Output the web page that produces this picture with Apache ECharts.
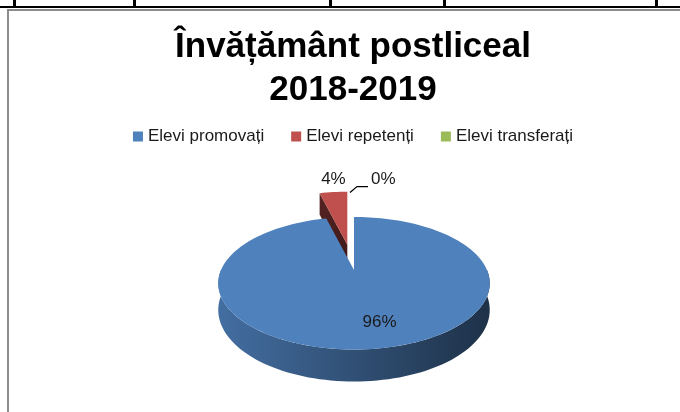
<!DOCTYPE html>
<html>
<head>
<meta charset="utf-8">
<script src="https://cdn.jsdelivr.net/npm/echarts@6/dist/echarts.min.js"></script>
<style>
  html, body { margin: 0; padding: 0; width: 680px; height: 412px; overflow: hidden; background: #fff; }
  .hline { position: absolute; left: 0; top: 6px; width: 680px; height: 2px; background: #000; }
  .vline { position: absolute; top: 0; width: 3px; height: 7px; background: #000; }
  #chart {
    position: absolute; left: 7px; top: 9px; width: 690px; height: 420px;
    box-sizing: border-box; border-left: 2px solid #8c8c8c; border-top: 2px solid #8c8c8c;
  }
</style>
</head>
<body>
<div class="hline"></div>
<div class="vline" style="left:13px"></div>
<div class="vline" style="left:133px"></div>
<div class="vline" style="left:329px"></div>
<div class="vline" style="left:443px"></div>
<div class="vline" style="left:655px"></div>
<div id="chart"></div>
<script>
// date
const titleText = 'Învățământ postliceal\n2018-2019';
const categories = ['Elevi promovați', 'Elevi repetenți', 'Elevi transferați'];
const values = [96, 4, 0];
const colors = ['#4F81BD', '#C0504D', '#9BBB59'];

// geometrie pentru pie-ul "3D"
const cx = 345, cy = 259;      // centrul fetei de sus
const R = 133, Ry = 63.6;      // raze
const persp = 0.2;             // perspectiva (spate mai mic)
const depth = 25.6;            // grosime
const explode = [0, 0.4, 0.4];

const total = values.reduce((a, b) => a + b, 0);
const rad = d => d * Math.PI / 180;

function proj(x, z) {
  const p = 1 / (1 + persp * z);
  return [cx + R * x * p, cy - Ry * z * p, p];
}
function edge(a) {
  return proj(Math.cos(rad(a)), Math.sin(rad(a)));
}
function shade(hex, k) {
  const n = parseInt(hex.slice(1), 16);
  const r = Math.round(((n >> 16) & 255) * k);
  const g = Math.round(((n >> 8) & 255) * k);
  const b = Math.round((n & 255) * k);
  return 'rgb(' + r + ',' + g + ',' + b + ')';
}
function arc(from, to) {
  const pts = [];
  const steps = Math.max(2, Math.ceil(Math.abs(to - from) / 2));
  for (let s = 0; s <= steps; s++) pts.push(edge(from + (to - from) * s / steps));
  return pts;
}

function renderSlice(i) {
  const before = values.slice(0, i).reduce((a, b) => a + b, 0);
  const a0 = 90 - before / total * 360;
  const a1 = a0 - values[i] / total * 360;
  const mid = (a0 + a1) / 2;
  const e = explode[i];
  const ox = R * e * Math.cos(rad(mid));
  const oy = -Ry * e * Math.sin(rad(mid));
  const mv = p => [p[0] + ox, p[1] + oy];
  const down = p => [p[0] + ox, p[1] + oy + depth * p[2]];
  const c = proj(0, 0);
  const children = [];

  if (values[i] > 0) {
    // perete exterior (doar jumatatea din fata)
    for (let k = -1; k <= 1; k++) {
      const lo = Math.max(a1, -180 + 360 * k);
      const hi = Math.min(a0, 360 * k);
      if (hi - lo <= 0) continue;
      const top = arc(lo, hi);
      const pts = top.map(mv).concat(top.slice().reverse().map(down));
      children.push({
        type: 'polygon', z2: 1,
        shape: { points: pts },
        style: {
          fill: new echarts.graphic.LinearGradient(0, 0, 1, 0, [
            { offset: 0, color: shade(colors[i], 0.85) },
            { offset: 1, color: shade(colors[i], 0.38) }
          ])
        }
      });
    }
    // fete de taietura vizibile
    [[a0, a0 + 90], [a1, a1 - 90]].forEach(([a, n]) => {
      if (Math.sin(rad(n)) > -0.05) return;
      const p = edge(a);
      children.push({
        type: 'polygon', z2: 1,
        shape: { points: [mv(c), mv(p), down(p), down(c)] },
        style: {
          fill: new echarts.graphic.LinearGradient(0, 0, 1, 1, [
            { offset: 0, color: shade(colors[i], 0.45) },
            { offset: 1, color: shade(colors[i], 0.3) }
          ])
        }
      });
    });
    // fata de sus
    children.push({
      type: 'polygon', z2: 10,
      shape: { points: [mv(c)].concat(arc(a0, a1).map(mv)) },
      style: { fill: colors[i] }
    });
  }

  // eticheta
  const label = Math.round(values[i] / total * 100) + '%';
  const font = '17px "Liberation Sans", Arial, sans-serif';
  if (values[i] / total >= 0.1) {
    const p = mv(proj(0.7 * Math.cos(rad(mid)), 0.7 * Math.sin(rad(mid))));
    children.push({
      type: 'text', z2: 20, x: p[0] + 12, y: p[1] + 1,
      style: { text: label, font: font, fill: '#1a1a1a', align: 'center', verticalAlign: 'middle' }
    });
  } else if (values[i] > 0) {
    const p = mv(edge(mid));
    children.push({
      type: 'text', z2: 20, x: p[0], y: p[1] - 13,
      style: { text: label, font: font, fill: '#1a1a1a', align: 'center', verticalAlign: 'middle' }
    });
  } else {
    const p = mv(edge(a0));
    children.push({
      type: 'polyline', z2: 20,
      shape: { points: [[p[0] - 4, p[1] + 1], [p[0] + 3, p[1] - 5], [p[0] + 14, p[1] - 5]] },
      style: { stroke: '#000', lineWidth: 1.2, fill: null }
    });
    children.push({
      type: 'text', z2: 20, x: p[0] + 17, y: p[1] - 12,
      style: { text: label, font: font, fill: '#1a1a1a', align: 'left', verticalAlign: 'middle' }
    });
  }
  return { type: 'group', children: children };
}

const chart = echarts.init(document.getElementById('chart'));
chart.setOption({
  animation: false,
  title: {
    text: titleText,
    left: 'center',
    top: 15,
    padding: 0,
    textStyle: {
      fontFamily: '"Liberation Sans", Arial, sans-serif',
      fontSize: 35,
      fontWeight: 'bold',
      lineHeight: 43,
      color: '#000'
    }
  },
  legend: {
    data: categories,
    top: 117,
    left: 'center',
    padding: 0,
    icon: 'rect',
    itemWidth: 10,
    itemHeight: 10,
    itemGap: 27,
    textStyle: { fontFamily: '"Liberation Sans", Arial, sans-serif', fontSize: 17, color: '#1a1a1a' }
  },
  series: categories.map((name, i) => ({
    type: 'custom',
    name: name,
    coordinateSystem: 'none',
    itemStyle: { color: colors[i] },
    data: [values[i]],
    renderItem: () => renderSlice(i)
  }))
});
</script>
</body>
</html>
